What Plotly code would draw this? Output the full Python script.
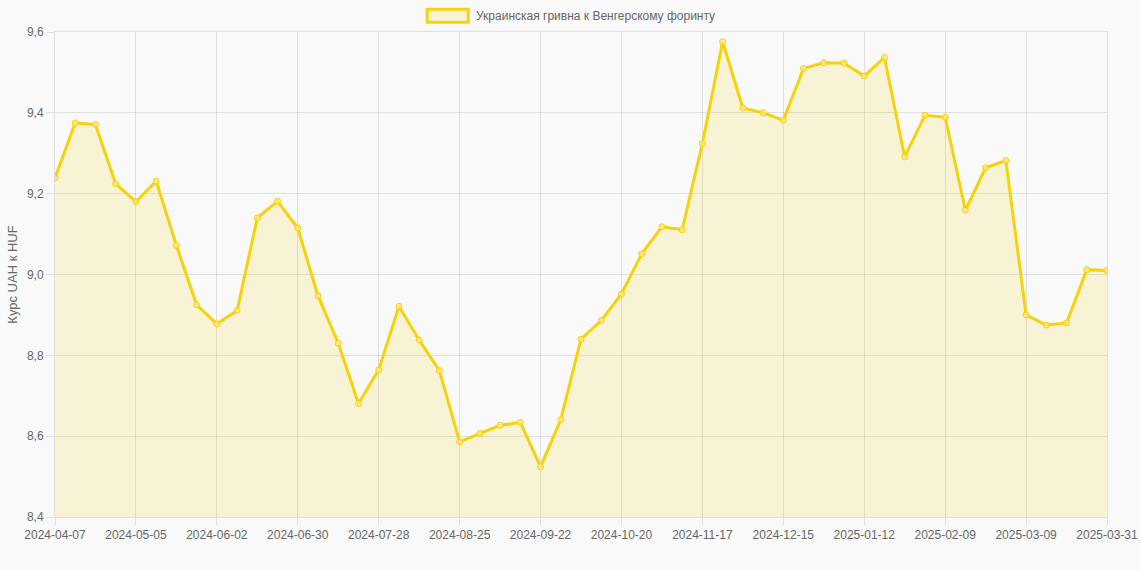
import plotly.graph_objects as go

# ── Data ───────────────────────────────────────────────────────────────────────
DATES = [
    "2024-04-07", "2024-04-14", "2024-04-21", "2024-04-28", "2024-05-05",
    "2024-05-12", "2024-05-19", "2024-05-26", "2024-06-02", "2024-06-09",
    "2024-06-16", "2024-06-23", "2024-06-30", "2024-07-07", "2024-07-14",
    "2024-07-21", "2024-07-28", "2024-08-04", "2024-08-11", "2024-08-18",
    "2024-08-25", "2024-09-01", "2024-09-08", "2024-09-15", "2024-09-22",
    "2024-09-29", "2024-10-06", "2024-10-13", "2024-10-20", "2024-10-27",
    "2024-11-03", "2024-11-10", "2024-11-17", "2024-11-24", "2024-12-01",
    "2024-12-08", "2024-12-15", "2024-12-22", "2024-12-29", "2025-01-05",
    "2025-01-12", "2025-01-19", "2025-01-26", "2025-02-02", "2025-02-09",
    "2025-02-16", "2025-02-23", "2025-03-02", "2025-03-09", "2025-03-16",
    "2025-03-23", "2025-03-30", "2025-03-31",
]
RATE = [
    9.239, 9.375, 9.371, 9.224, 9.180, 9.231, 9.072, 8.925, 8.878, 8.911,
    9.140, 9.181, 9.115, 8.947, 8.830, 8.681, 8.764, 8.921, 8.838, 8.762,
    8.586, 8.607, 8.627, 8.634, 8.524, 8.641, 8.840, 8.886, 8.952, 9.051,
    9.118, 9.111, 9.324, 9.576, 9.412, 9.400, 9.382, 9.510, 9.524, 9.523,
    9.491, 9.537, 9.291, 9.394, 9.389, 9.159, 9.264, 9.282, 8.900, 8.875,
    8.880, 9.012, 9.010,
]
TICK_DATES = [
    "2024-04-07", "2024-05-05", "2024-06-02", "2024-06-30", "2024-07-28",
    "2024-08-25", "2024-09-22", "2024-10-20", "2024-11-17", "2024-12-15",
    "2025-01-12", "2025-02-09", "2025-03-09", "2025-03-31",
]
Y_TICKS = [8.4, 8.6, 8.8, 9.0, 9.2, 9.4, 9.6]
SERIES_NAME = "Украинская гривна к Венгерскому форинту"
Y_TITLE = "Курс UAH к HUF"

# ── Style ──────────────────────────────────────────────────────────────────────
GOLD = "#f5d20a"
FILL = "rgba(245, 210, 10, 0.15)"
GRID = "rgba(0, 0, 0, 0.1)"
TEXT = "#666666"
BG = "#f9f9f9"
FONT = "Liberation Sans, Arial, sans-serif"

fig = go.Figure()
fig.add_trace(go.Scatter(
    x=DATES, y=RATE, mode="lines+markers", name=SERIES_NAME,
    fill="tozeroy", fillcolor=FILL,
    line=dict(color=GOLD, width=3),
    marker=dict(size=6, color="rgba(250, 232, 140, 0.8)",
                line=dict(color=GOLD, width=1)),
    showlegend=False,
))

# Chart.js-style legend: bordered box + label
fig.add_shape(type="rect", xref="paper", yref="paper",
              x0=(427 - 55) / 1051.5, x1=(468 - 55) / 1051.5,
              y0=1 + (32.3 - 22.5) / 484.4, y1=1 + (32.3 - 9.5) / 484.4,
              line=dict(color=GOLD, width=3), fillcolor=FILL)
fig.add_annotation(xref="paper", yref="paper",
                   x=(474 - 55) / 1051.5, y=1 + (32.3 - 16) / 484.4,
                   xanchor="left", yanchor="middle", showarrow=False,
                   text=SERIES_NAME, font=dict(size=12, color=TEXT))

fig.update_layout(
    width=1140, height=570,
    paper_bgcolor=BG, plot_bgcolor=BG,
    font=dict(family=FONT, size=12, color=TEXT),
    separators=", ",
    margin=dict(l=55, r=33, t=32, b=53),
)
fig.update_xaxes(
    type="category", range=[0, len(DATES) - 1], automargin=False,
    tickmode="array", tickvals=TICK_DATES, ticktext=TICK_DATES, tickangle=0,
    showgrid=True, gridcolor=GRID, gridwidth=1,
    showline=True, linecolor=GRID, mirror=True,
    ticks="outside", ticklen=7, tickcolor=GRID,
    tickfont=dict(size=12, color=TEXT),
)
fig.update_yaxes(
    range=[8.4, 9.6], tickvals=Y_TICKS, tickformat=".1f", automargin=False,
    showgrid=True, gridcolor=GRID, gridwidth=1, zeroline=False,
    showline=True, linecolor=GRID, mirror=True,
    ticks="outside", ticklen=8, tickcolor=GRID,
    tickfont=dict(size=12, color=TEXT),
    title=dict(text=Y_TITLE, font=dict(size=13, color=TEXT), standoff=6),
)

# drop the browser's default 8px body margin so the figure fills the window
fig.write_html("out.html", config={"displayModeBar": False},
               post_script="document.body.style.margin = '0px';")
